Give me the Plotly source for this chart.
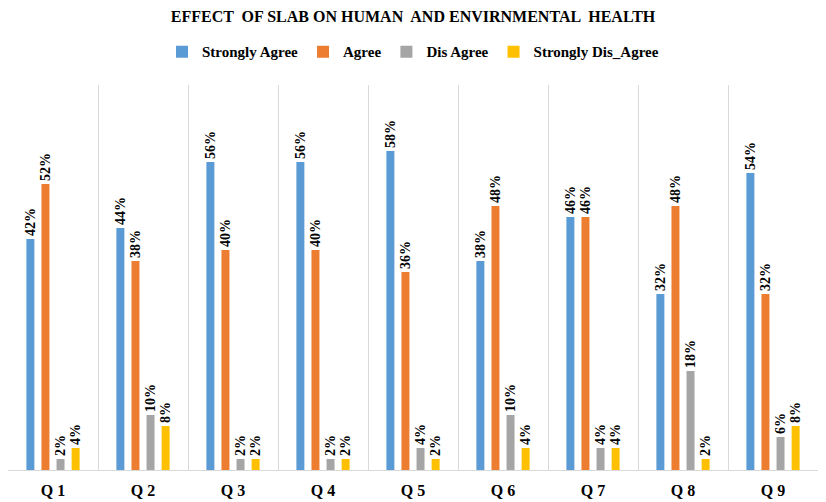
import plotly.graph_objects as go

categories = ["Q 1", "Q 2", "Q 3", "Q 4", "Q 5", "Q 6", "Q 7", "Q 8", "Q 9"]
strongly_agree = [42, 44, 56, 56, 58, 38, 46, 32, 54]
agree = [52, 38, 40, 40, 36, 48, 46, 48, 32]
dis_agree = [2, 10, 2, 2, 4, 10, 4, 18, 6]
strongly_dis_agree = [4, 8, 2, 2, 2, 4, 4, 2, 8]

series = [
    ("Strongly Agree", strongly_agree, "#5B9BD5"),
    ("Agree", agree, "#ED7D31"),
    ("Dis Agree", dis_agree, "#A5A5A5"),
    ("Strongly Dis_Agree", strongly_dis_agree, "#FFC000"),
]

font = "Liberation Serif, Times New Roman, serif"
fig = go.Figure()
for name, vals, col in series:
    fig.add_trace(go.Bar(
        x=categories, y=vals, name=f"<b>{name}</b>", marker_color=col,
        marker_line_width=0,
        text=[f"<b>{v}%</b>" for v in vals], textposition="outside", textangle=-90,
        constraintext="none",
        textfont=dict(family=font, size=14, color="#000000"),
        cliponaxis=False,
    ))

fig.update_layout(
    width=826, height=502,
    margin=dict(l=8, r=8, t=85, b=32, autoexpand=False),
    paper_bgcolor="white", plot_bgcolor="white",
    barmode="group", bargap=0.33, bargroupgap=0.47,
    title=dict(text="<b>EFFECT  OF SLAB ON HUMAN  AND ENVIRNMENTAL  HEALTH</b>",
               x=0.5, xanchor="center", y=0.967, yanchor="middle",
               font=dict(family=font, size=16, color="#000000")),
    legend=dict(orientation="h", x=0.5, xanchor="center", y=1.086, yanchor="middle",
                font=dict(family=font, size=15, color="#000000"),
                itemwidth=30, traceorder="normal"),
    showlegend=True,
)
fig.update_xaxes(
    tickson="boundaries", showgrid=True, gridcolor="#D9D9D9", gridwidth=1,
    showline=True, linecolor="#D9D9D9", ticks="", automargin=False,
    tickvals=categories, ticktext=[f"<b>{c}</b>" for c in categories],
    tickfont=dict(family=font, size=16, color="#000000"),
    ticklabelstandoff=6,
)
fig.update_yaxes(range=[0, 70], showgrid=False, showticklabels=False, zeroline=False,
                 automargin=False)

fig.write_html("out.html")
